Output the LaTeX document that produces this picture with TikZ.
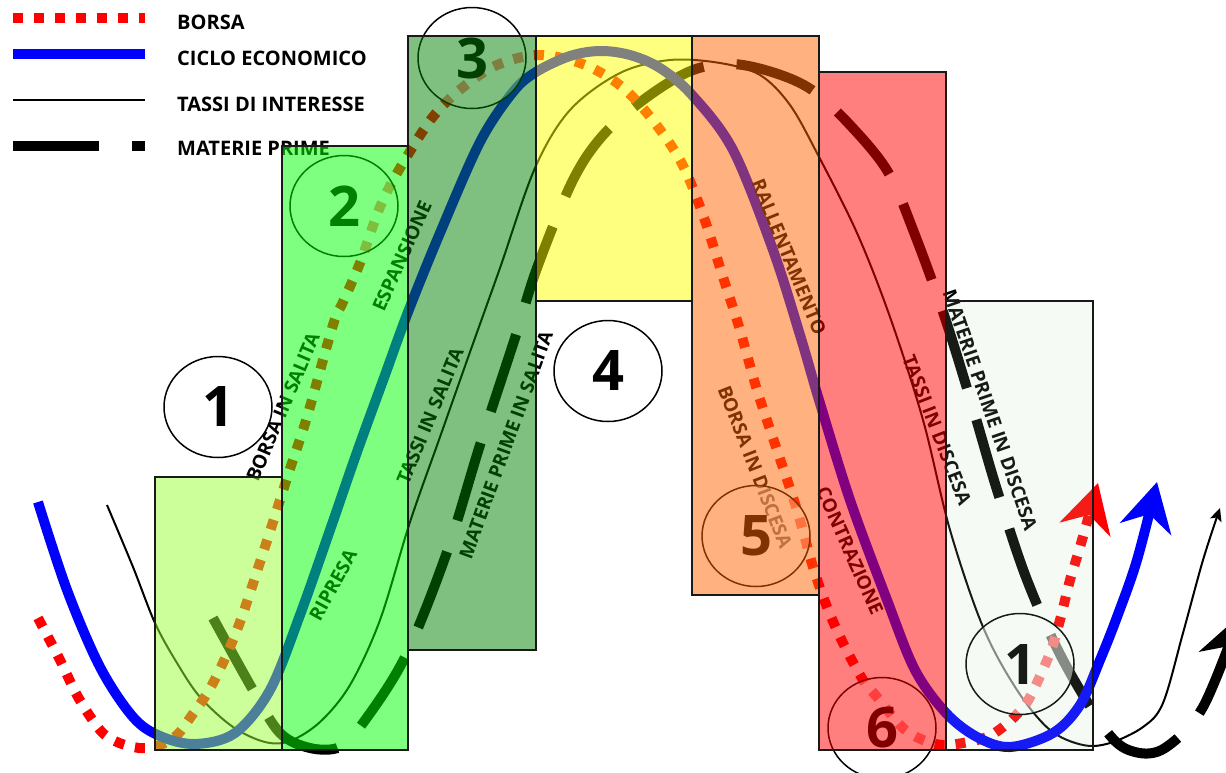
\documentclass[tikz,border=0pt]{standalone}
\usepackage{fontspec}
\setmainfont{Open Sans}
\usetikzlibrary{arrows.meta,shapes.geometric}
\definecolor{cBa}{RGB}{153,255,51}
\definecolor{cBb}{RGB}{0,255,0}
\definecolor{cBc}{RGB}{0,128,0}
\definecolor{cBd}{RGB}{255,255,0}
\definecolor{cBe}{RGB}{255,102,0}
\definecolor{cBf}{RGB}{255,0,0}
\definecolor{cBg}{RGB}{176,216,176}
\begin{document}
\begin{tikzpicture}[x=1pt,y=-1pt,
  borsa/.style={draw=red, line width=10pt, dash pattern=on 10pt off 11pt},
  ciclo/.style={draw=blue, line width=10pt},
  tassi/.style={draw=black, line width=2pt},
  materie/.style={draw=black, line width=10pt, dash pattern=on 81pt off 33pt},
  legtext/.style={anchor=west, font=\bfseries\fontsize{20}{24}\selectfont, inner sep=0pt},
  lab/.style={font=\bfseries\fontsize{19}{22}\selectfont, inner sep=0pt},
  ring/.style={ellipse, draw=black, line width=1.5pt, fill=white, fill opacity=0.5, text opacity=1, minimum width=108pt, minimum height=101pt, inner sep=0pt, font=\bfseries\fontsize{56}{60}\selectfont},
  phase/.style={draw=black!90, line width=1.5pt, fill opacity=0.5},
  bighead/.style={-{Stealth[length=48pt,width=52pt,inset=15pt]}},
  smallhead/.style={-{Stealth[length=13pt,width=12pt,inset=3pt]}},
]
\useasboundingbox (0,0) rectangle (1226,772);
\clip (0,0) rectangle (1226,772);

% legend
\draw[borsa] (13,18) -- (145,18);
\draw[ciclo] (13,54) -- (145,54);
\draw[tassi] (13,100) -- (145,100);
\draw[materie, dash pattern=on 86pt off 33pt] (13,146) -- (145,146);
\node[legtext] (tb) at (177,22) {BORSA};
\node[legtext] (tc) at (177,58) {CICLO ECONOMICO};
\node[legtext] (tt) at (177,104) {TASSI DI INTERESSE};
\node[legtext] (tm) at (177,148) {MATERIE PRIME};

% curves
\draw[tassi, smallhead] plot[smooth, tension=0.55] coordinates {
 (107,505) (133,567) (155,623) (177,663) (200,697) (233,727) (265,742) (290,741)
 (320,722) (350,685) (380,620) (410,522) (440,437) (470,352) (500,268) (535,168)
 (570,110) (620,73) (670,60) (720,63) (760,75) (790,105) (818,155) (857,233)
 (890,317) (923,420) (950,530) (983,627) (1017,690) (1050,730) (1083,745)
 (1110,743) (1143,727) (1163,703) (1183,633) (1203,560) (1220,508)};

\draw[materie, bighead] plot[smooth, tension=0.55] coordinates {
 (213,618) (253,690) (280,733) (310,748) (340,747) (363,723) (405,657) (447,552)
 (480,445) (515,338) (537,268) (573,180) (605,133) (650,95) (693,70) (733,64)
 (775,73) (812,90) (850,125) (888,172) (915,235) (945,318) (972,405) (997,490)
 (1027,580) (1063,660) (1108,733) (1135,752) (1165,748) (1203,707) (1240,615)};

\draw[borsa, bighead] plot[smooth, tension=0.55] coordinates {
 (38,618) (60,660) (78,697) (100,730) (117,742) (140,748) (160,745) (177,735)
 (190,718) (212,685) (237,630) (263,553) (288,475) (307,417) (333,325) (343,302)
 (360,263) (380,207) (400,168) (432,118) (462,88) (497,65) (538,55) (580,63)
 (617,83) (647,113) (680,160) (703,215) (723,277) (740,330) (757,390) (777,450)
 (797,510) (813,567) (827,607) (843,643) (863,680) (877,697) (903,728) (923,740)
 (942,745) (963,743) (987,737) (1003,727) (1018,713) (1030,697) (1050,653)
 (1060,620) (1070,580) (1080,547) (1098,483)};

\draw[ciclo, bighead] plot[smooth, tension=0.55] coordinates {
 (38,502) (67,590) (100,667) (133,717) (160,736) (195,744) (235,733) (270,690)
 (300,615) (330,530) (357,452) (385,375) (408,312) (440,233) (480,142) (513,92)
 (536,72) (570,56) (600,51) (630,55) (660,68) (692,95) (733,150) (773,250)
 (800,335) (819,400) (850,500) (887,600) (915,670) (946,713) (977,737) (1010,747)
 (1053,733) (1080,705) (1100,660) (1117,617) (1137,560) (1157,482)};

% labels
\node[lab, rotate=67] (l1) at (283,407) {BORSA IN SALITA};
\node[lab, rotate=61] (l2) at (333,585) {RIPRESA};
\node[lab, rotate=66] (l3) at (402,256) {ESPANSIONE};
\node[lab, rotate=67.5] (l4) at (430,416) {TASSI IN SALITA};
\node[lab, rotate=70] (l5) at (506,445) {MATERIE PRIME IN SALITA};
\node[lab, rotate=-67.6] (l6) at (789,257) {RALLENTAMENTO};
\node[lab, rotate=-68.7] (l7) at (755,467) {BORSA IN DISCESA};
\node[lab, rotate=-66] (l8) at (850,551) {CONTRAZIONE};
\node[lab, rotate=-68.8] (l9) at (937,430) {TASSI IN DISCESA};
\node[lab, rotate=-71] (l10) at (990,410) {MATERIE PRIME IN DISCESA};

% circles
\node[ring] (c1) at (218,407) {1};
\node[ring] (c2) at (344,206) {2};
\node[ring] (c3) at (472,58) {3};
\node[ring] (c4) at (608,371) {4};
\node[ring] (c5) at (756,536) {5};
\node[ring] (c6) at (882,728) {6};
\node[ring] (c7) at (1020,664) {1};

% phases
\path[phase, fill=cBa] (155,477) rectangle (282,750);
\path[phase, fill=cBb] (282,146) rectangle (408,750);
\path[phase, fill=cBc] (408,36) rectangle (536,650);
\path[phase, fill=cBd] (536,36) rectangle (692,301);
\path[phase, fill=cBe] (692,36) rectangle (819,595);
\path[phase, fill=cBf] (819,72) rectangle (946,750);
\path[phase, fill=cBg, fill opacity=0.125] (946,301) rectangle (1093,750);
\end{tikzpicture}
\end{document}
